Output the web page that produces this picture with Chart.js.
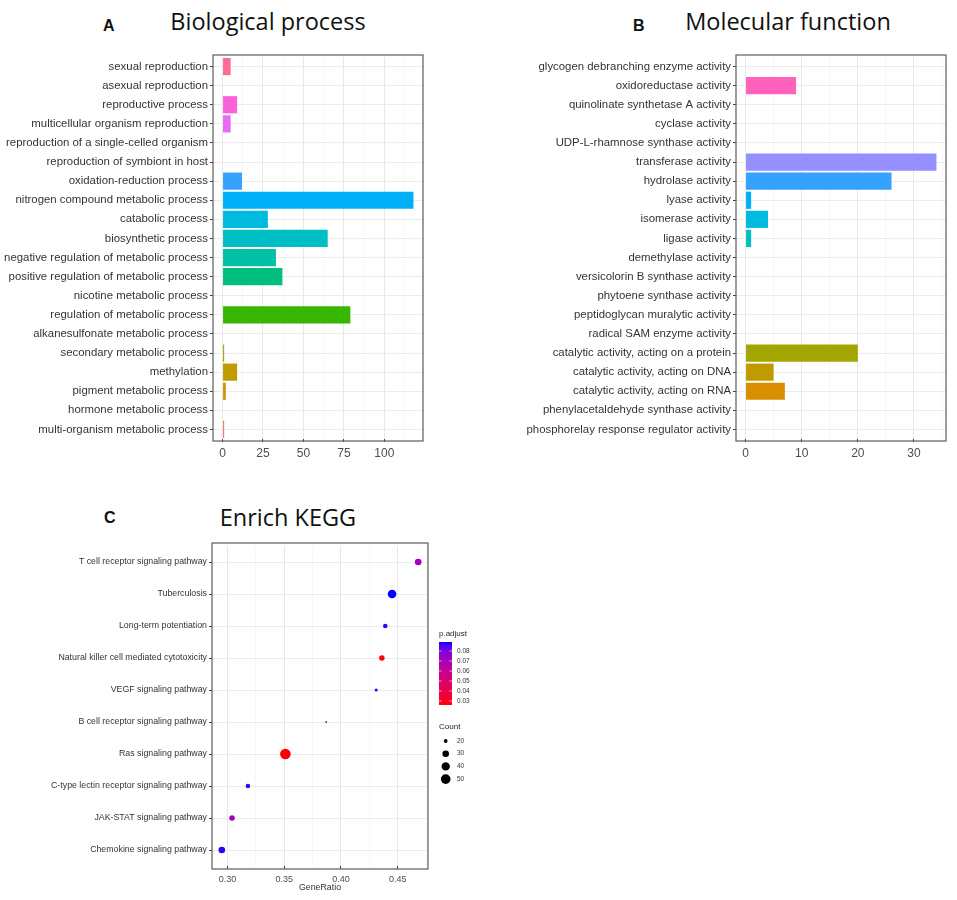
<!DOCTYPE html>
<html>
<head>
<meta charset="utf-8">
<script src="https://cdn.jsdelivr.net/npm/chart.js@4.4.1/dist/chart.umd.min.js"></script>
<style>
  body { margin:0; background:#fff; width:957px; height:900px; position:relative; overflow:hidden; }
  .box { position:absolute; }
  .ttl { position:absolute; font-family:"Open Sans",Lato,sans-serif; font-size:23.5px; line-height:1; color:#111; white-space:nowrap; transform:translateX(-50%); }
  .tag { position:absolute; font-family:"Liberation Sans",Arial,sans-serif; font-weight:bold; font-size:16px; line-height:1; color:#111; }
</style>
</head>
<body>
<div class="tag" style="left:103px;top:18px">A</div>
<div class="ttl" style="left:268px;top:10px">Biological process</div>
<div class="tag" style="left:633px;top:18px">B</div>
<div class="ttl" style="left:788px;top:10px">Molecular function</div>
<div class="tag" style="left:104px;top:510px">C</div>
<div class="ttl" style="left:288px;top:506px">Enrich KEGG</div>

<div class="box" style="left:0;top:40px;width:440px;height:431px"><canvas id="bpChart"></canvas></div>
<div class="box" style="left:500px;top:40px;width:457px;height:431px"><canvas id="mfChart"></canvas></div>
<div class="box" style="left:0;top:530px;width:480px;height:363px"><canvas id="keggChart"></canvas></div>

<script>
// ── Data ──────────────────────────────────────────────────
const bpTerms = ['sexual reproduction','asexual reproduction','reproductive process','multicellular organism reproduction',
  'reproduction of a single-celled organism','reproduction of symbiont in host','oxidation-reduction process',
  'nitrogen compound metabolic process','catabolic process','biosynthetic process','negative regulation of metabolic process',
  'positive regulation of metabolic process','nicotine metabolic process','regulation of metabolic process',
  'alkanesulfonate metabolic process','secondary metabolic process','methylation','pigment metabolic process',
  'hormone metabolic process','multi-organism metabolic process'];
const bpCounts = [5,0,9,5,0,0,12,118,28,65,33,37,0,79,0,1,9,2,0,1];
const bpTicks = [0,25,50,75,100];

const mfTerms = ['glycogen debranching enzyme activity','oxidoreductase activity','quinolinate synthetase A activity',
  'cyclase activity','UDP-L-rhamnose synthase activity','transferase activity','hydrolase activity','lyase activity',
  'isomerase activity','ligase activity','demethylase activity','versicolorin B synthase activity',
  'phytoene synthase activity','peptidoglycan muralytic activity','radical SAM enzyme activity',
  'catalytic activity, acting on a protein','catalytic activity, acting on DNA','catalytic activity, acting on RNA',
  'phenylacetaldehyde synthase activity','phosphorelay response regulator activity'];
const mfCounts = [0,9,0,0,0,34,26,1,4,1,0,0,0,0,0,20,5,7,0,0];
const mfTicks = [0,10,20,30];

const keggTerms = ['T cell receptor signaling pathway','Tuberculosis','Long-term potentiation',
  'Natural killer cell mediated cytotoxicity','VEGF signaling pathway','B cell receptor signaling pathway',
  'Ras signaling pathway','C-type lectin receptor signaling pathway','JAK-STAT signaling pathway',
  'Chemokine signaling pathway'];
const keggRatio = [0.468,0.445,0.439,0.436,0.431,0.387,0.351,0.318,0.304,0.295];
const keggCount = [30,42,22,25,19,18,58,22,25,30];
const keggPadj  = [0.072,0.089,0.087,0.028,0.086,0.075,0.026,0.087,0.070,0.088];
const keggTicks = [0.30,0.35,0.40,0.45];
const padjBreaks = [0.03,0.04,0.05,0.06,0.07,0.08];
const countBreaks = [20,30,40,50];

// ggplot hue palette, top row first
const hue20 = ['#FF6C91','#FF62BC','#FA62DB','#E76BF3','#C77CFF','#9590FF','#35A2FF','#00B0F6','#00BAE0','#00BFC4',
  '#00C1A3','#00BF7D','#00BB4E','#39B600','#7CAE00','#A3A500','#C09B00','#D89000','#EA8331','#F8766D'];

// ── Helpers ──────────────────────────────────────────────
Chart.defaults.font.family = '"Liberation Sans", Arial, sans-serif';
Chart.defaults.animation = false;

const expand = (lo, hi) => { const d = (hi - lo) * 0.05; return [lo - d, hi + d]; };

function withMinor(major, lo, hi) {
  const step = (major[1] - major[0]) / 2;
  const out = [];
  for (let v = major[0] - step * 4; v <= hi + 1e-9; v += step) {
    const r = Math.round(v * 1e6) / 1e6;
    if (r >= lo) out.push(r);
  }
  return out;
}

function xAxis(major, lo, hi, fmt, fontSize, height, pad, extra) {
  return Object.assign({
    type: 'linear', min: lo, max: hi,
    afterBuildTicks: s => { s.ticks = withMinor(major, lo, hi).map(v => ({ value: v })); },
    afterFit: s => { s.height = height; },
    border: { display: false },
    grid: {
      color: c => major.includes(c.tick.value) ? '#e8e8e8' : '#f3f3f3',
      lineWidth: c => major.includes(c.tick.value) ? 1 : 0.7,
      tickColor: c => major.includes(c.tick.value) ? '#444' : 'rgba(0,0,0,0)',
      tickLength: 3
    },
    ticks: { autoSkip: false, maxRotation: 0, padding: pad, color: '#4d4d4d', font: { size: fontSize },
      callback: v => major.includes(v) ? fmt(v) : '' }
  }, extra || {});
}

function yAxis(width, fontSize, extra) {
  return Object.assign({
    afterFit: s => { s.width = width; },
    border: { display: false },
    grid: { offset: false, color: '#ececec', tickColor: '#444', tickLength: 3 },
    ticks: { autoSkip: false, padding: 2, color: '#333', font: { size: fontSize } }
  }, extra || {});
}

// panel border; ggplot pads discrete axes by 0.6 of a step, Chart.js by 0.5,
// so the box sits `inset` px outside the plot area at top and bottom
const frame = {
  id: 'frame',
  afterDraw(c, args, opts) {
    const a = c.chartArea, x = c.ctx, d = opts.inset || 0;
    x.save();
    x.strokeStyle = '#5c5c5c'; x.lineWidth = 1.2;
    x.strokeRect(a.left, a.top - d, a.right - a.left, a.bottom - a.top + 2 * d);
    x.restore();
  }
};

// colour: ggplot gradient red -> blue, interpolated in Lab
function rgb2lab([r, g, b]) {
  const lin = c => { c /= 255; return c <= 0.04045 ? c / 12.92 : Math.pow((c + 0.055) / 1.055, 2.4); };
  r = lin(r); g = lin(g); b = lin(b);
  const X = (0.4124 * r + 0.3576 * g + 0.1805 * b) / 0.95047;
  const Y = 0.2126 * r + 0.7152 * g + 0.0722 * b;
  const Z = (0.0193 * r + 0.1192 * g + 0.9505 * b) / 1.08883;
  const f = t => t > 0.008856 ? Math.cbrt(t) : 7.787 * t + 16 / 116;
  return [116 * f(Y) - 16, 500 * (f(X) - f(Y)), 200 * (f(Y) - f(Z))];
}
function lab2rgb([L, a, b]) {
  const fy = (L + 16) / 116, fx = a / 500 + fy, fz = fy - b / 200;
  const inv = t => t * t * t > 0.008856 ? t * t * t : (t - 16 / 116) / 7.787;
  const X = 0.95047 * inv(fx), Y = inv(fy), Z = 1.08883 * inv(fz);
  const gam = c => { c = c <= 0.0031308 ? 12.92 * c : 1.055 * Math.pow(c, 1 / 2.4) - 0.055; return Math.round(255 * Math.min(1, Math.max(0, c))); };
  return [gam(3.2406 * X - 1.5372 * Y - 0.4986 * Z), gam(-0.9689 * X + 1.8758 * Y + 0.0415 * Z), gam(0.0557 * X - 0.2040 * Y + 1.0570 * Z)];
}
const labLow = rgb2lab([255, 0, 0]), labHigh = rgb2lab([0, 0, 255]);
const pMin = Math.min(...keggPadj), pMax = Math.max(...keggPadj);
function padjColor(p) {
  const t = (p - pMin) / (pMax - pMin);
  const c = lab2rgb(labLow.map((v, i) => v + (labHigh[i] - v) * t));
  return `rgb(${c[0]},${c[1]},${c[2]})`;
}
// size: ggplot area scale, radius in px
const cMin = Math.min(...keggCount), cMax = Math.max(...keggCount);
const countRadius = n => 0.9 + 4.4 * Math.sqrt(Math.max(0, (n - cMin) / (cMax - cMin)));

// ── Bar panels ────────────────────────────────────────────
function barChart(id, terms, counts, ticks, yWidth, padRight) {
  const [lo, hi] = expand(0, Math.max(...counts));
  return new Chart(document.getElementById(id), {
    type: 'bar',
    data: { labels: terms, datasets: [{ data: counts, backgroundColor: hue20, borderWidth: 0,
      barPercentage: 0.9, categoryPercentage: 1 }] },
    options: {
      indexAxis: 'y', responsive: true, maintainAspectRatio: false,
      layout: { padding: { top: 17, right: padRight, bottom: 0, left: 0 } },
      plugins: { legend: { display: false }, tooltip: { enabled: false }, frame: { inset: 2 } },
      scales: {
        x: xAxis(ticks, lo, hi, v => String(v), 12, 32, 4),
        y: yAxis(yWidth, 11.4)
      }
    },
    plugins: [frame]
  });
}
barChart('bpChart', bpTerms, bpCounts, bpTicks, 213, 17);
barChart('mfChart', mfTerms, mfCounts, mfTicks, 236, 11);

// ── KEGG dot plot ─────────────────────────────────────────
const keggLegend = {
  id: 'keggLegend',
  afterDraw(c) {
    const x = c.ctx;
    x.save();
    x.fillStyle = '#222'; x.textBaseline = 'middle'; x.textAlign = 'left';
    x.font = '8px "Liberation Sans", Arial, sans-serif';
    x.fillText('p.adjust', 439, 104);
    const top = 112, bot = 175, left = 439, w = 13;
    const grad = x.createLinearGradient(0, bot, 0, top);
    for (let i = 0; i <= 20; i++) grad.addColorStop(i / 20, padjColor(pMin + (pMax - pMin) * i / 20));
    x.fillStyle = grad; x.fillRect(left, top, w, bot - top);
    x.strokeStyle = 'rgba(255,255,255,0.8)'; x.lineWidth = 0.8;
    x.fillStyle = '#333'; x.font = '6.5px "Liberation Sans", Arial, sans-serif';
    padjBreaks.forEach(p => {
      const y = bot - (p - pMin) / (pMax - pMin) * (bot - top);
      x.beginPath(); x.moveTo(left, y); x.lineTo(left + 2.5, y); x.moveTo(left + w - 2.5, y); x.lineTo(left + w, y); x.stroke();
      x.fillText(p.toFixed(2), 457, y);
    });
    x.font = '8px "Liberation Sans", Arial, sans-serif'; x.fillStyle = '#222';
    x.fillText('Count', 439, 197);
    countBreaks.forEach((n, i) => {
      const y = 211 + i * 12.7;
      x.fillStyle = '#000';
      x.beginPath(); x.arc(445.7, y, countRadius(n), 0, Math.PI * 2); x.fill();
      x.fillStyle = '#333'; x.font = '6.5px "Liberation Sans", Arial, sans-serif';
      x.fillText(String(n), 457, y);
    });
    x.restore();
  }
};

const [kLo, kHi] = expand(Math.min(...keggRatio), Math.max(...keggRatio));
new Chart(document.getElementById('keggChart'), {
  type: 'scatter',
  data: { datasets: [{
    data: keggTerms.map((t, i) => ({ x: keggRatio[i], y: t })),
    pointRadius: c => countRadius(keggCount[c.dataIndex]),
    pointBackgroundColor: c => padjColor(keggPadj[c.dataIndex]),
    pointBorderWidth: 0
  }] },
  options: {
    responsive: true, maintainAspectRatio: false,
    layout: { padding: { top: 16, right: 52, bottom: 0, left: 0 } },
    plugins: { legend: { display: false }, tooltip: { enabled: false }, frame: { inset: 3 } },
    scales: {
      x: xAxis(keggTicks, kLo, kHi, v => v.toFixed(2), 9, 27, 5,
        { title: { display: true, text: 'GeneRatio', color: '#333', font: { size: 8.8 }, padding: 0 } }),
      y: yAxis(212, 8.8, { type: 'category', labels: keggTerms, offset: true })
    }
  },
  plugins: [frame, keggLegend]
});
</script>
</body>
</html>
